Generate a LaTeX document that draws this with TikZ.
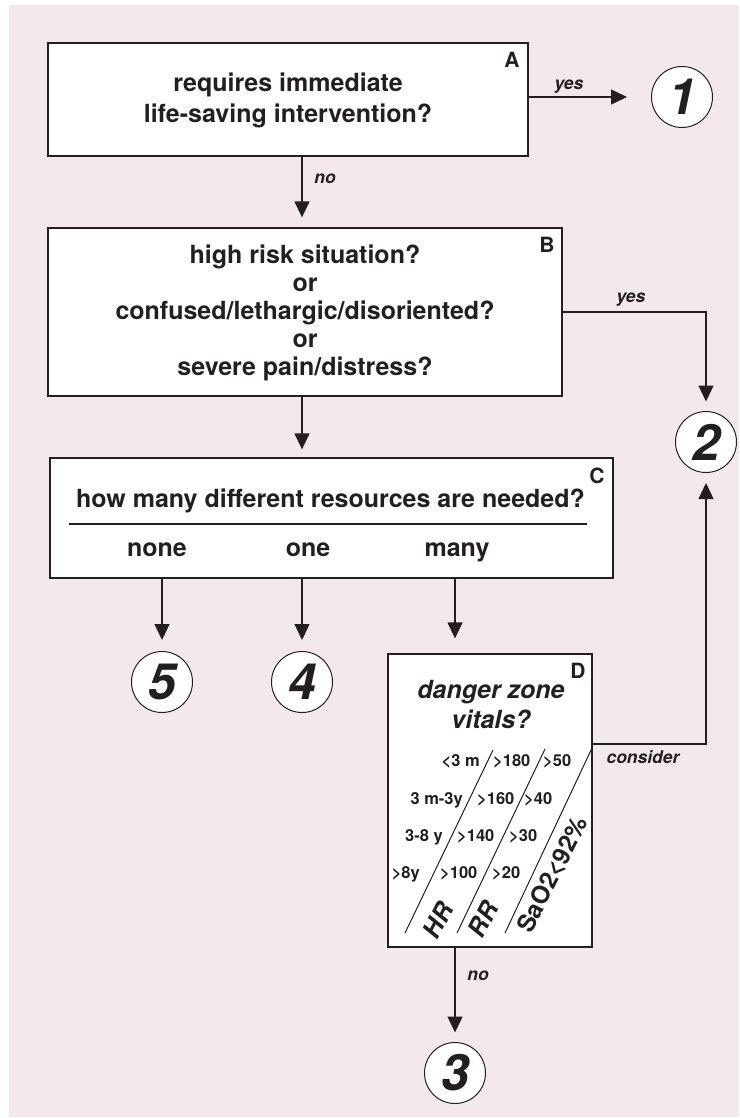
\documentclass[tikz,border=0pt]{standalone}
\usepackage{fontspec}
\setmainfont{TeX Gyre Heros}
\usetikzlibrary{arrows.meta,calc}
\definecolor{bgpink}{RGB}{243,232,235}
\definecolor{ink}{RGB}{35,31,32}
\begin{document}
\begin{tikzpicture}[x=1pt,y=-1pt,
  box/.style={draw=ink,fill=white,line width=1.3pt,inner sep=0pt},
  big/.style={text=ink,inner sep=0pt,anchor=base,font=\fontsize{25}{30}\selectfont\bfseries},
  bigit/.style={big,font=\fontsize{25}{30}\selectfont\bfseries\itshape},
  letter/.style={text=ink,inner sep=0pt,anchor=base,font=\fontsize{21}{24}\selectfont\bfseries},
  lab/.style={text=ink,inner sep=0pt,anchor=base,font=\fontsize{17.5}{20}\selectfont\bfseries\itshape},
  tab/.style={text=ink,inner sep=0pt,font=\fontsize{16.5}{19}\selectfont\bfseries},
  num/.style={circle,draw=ink,fill=white,line width=1pt,minimum size=61pt,inner sep=0pt,text=ink,font=\fontsize{50}{50}\selectfont\bfseries\itshape},
  arr/.style={draw=ink,line width=1.3pt,-{Triangle[width=15pt,length=16pt]}},
  thin/.style={draw=ink,line width=1pt}]
\useasboundingbox (0,0) rectangle (739,1118);
\fill[bgpink] (9,5) rectangle (739,1117);

% boxes
\node[box,minimum width=480pt,minimum height=113pt] (A) at (288,99.5) {};
\node[box,minimum width=514pt,minimum height=168pt] (B) at (305,312) {};
\node[box,minimum width=563pt,minimum height=120pt] (C) at (331.5,518) {};
\node[box,minimum width=204pt,minimum height=293pt] (D) at (490,800.5) {};

% circles
\node[num] (n1) at (682,97) {1};
\node[num] (n2) at (706,442) {2};
\node[num] (n5) at (162,682) {5};
\node[num] (n4) at (302,682) {4};
\node[num] (n3) at (455,1073) {3};

% box letters
\node[letter] (lA) at (512,68) {A};
\node[letter] (lB) at (547,252) {B};
\node[letter] (lC) at (597,483) {C};
\node[letter] (lD) at (578,678) {D};

% box A text
\node[big] (a1) at (288,92) {requires immediate};
\node[big] (a2) at (288,123) {life-saving intervention?};

% box B text
\node[big] (b1) at (305,263) {high risk situation?};
\node[big] (b2) at (305,291) {or};
\node[big] (b3) at (305,319) {confused/lethargic/disoriented?};
\node[big] (b4) at (305,347) {or};
\node[big] (b5) at (305,375) {severe pain/distress?};

% box C text
\node[big] (c1) at (330.5,507) {how many different resources are needed?};
\draw[ink,line width=1.2pt] (69,524) coordinate (cl1) -- (587,524) coordinate (cl2);
\node[big] (c2) at (157,556) {none};
\node[big] (c3) at (308,556) {one};
\node[big] (c4) at (457,556) {many};

% box D text
\node[bigit] (d1) at (491,698) {danger zone};
\node[bigit] (d2) at (491,728) {vitals?};

% diagonal lines in D
\draw[thin] (405,933) coordinate (g1a) -- (493,750) coordinate (g1b);
\draw[thin] (457,933) coordinate (g2a) -- (545,749) coordinate (g2b);
\draw[thin] (505,933) coordinate (g3a) -- (592,748) coordinate (g3b);

% table
\node[tab,anchor=base east] (t11) at (480,766) {<3 m};
\node[tab,anchor=base west] (t12) at (493,766) {>180};
\node[tab,anchor=base west] (t13) at (543,766) {>50};
\node[tab,anchor=base east] (t21) at (463,804) {3 m-3y};
\node[tab,anchor=base west] (t22) at (477,804) {>160};
\node[tab,anchor=base west] (t23) at (524,804) {>40};
\node[tab,anchor=base east] (t31) at (443,841) {3-8 y};
\node[tab,anchor=base west] (t32) at (457,841) {>140};
\node[tab,anchor=base west] (t33) at (509,841) {>30};
\node[tab,anchor=base east] (t41) at (420,878) {>8y};
\node[tab,anchor=base west] (t42) at (440,878) {>100};
\node[tab,anchor=base west] (t43) at (492,878) {>20};

\node[text=ink,inner sep=0pt,rotate=63,font=\fontsize{25}{28}\selectfont\bfseries\itshape] (hr) at (438,920) {HR};
\node[text=ink,inner sep=0pt,rotate=63,font=\fontsize{25}{28}\selectfont\bfseries\itshape] (rr) at (483,919) {RR};
\node[text=ink,inner sep=0pt,rotate=63,font=\fontsize{24.5}{28}\selectfont\bfseries] (sa) at (553,875) {SaO2<92\%};

% connectors
\coordinate (xa) at (302,0);
\coordinate (xm) at (455,0);
\coordinate (yc) at (0,744);
\draw[arr,shorten >=24pt] (A.east |- n1) -- (n1.west);
\draw[arr,shorten >=10pt] (A.south -| xa) -- (B.north -| xa);
\draw[arr,shorten >=8pt] (B.south -| xa) -- (C.north -| xa);
\draw[arr,shorten >=9.5pt] (B.east) -- (B.east -| n2) -- (n2.north);
\draw[arr,shorten >=11pt] (C.south -| n5) -- (n5.north);
\draw[arr,shorten >=11pt] (C.south -| n4) -- (n4.north);
\draw[arr,shorten >=15pt] (C.south -| xm) -- (D.north -| xm);
\draw[arr,shorten >=9.5pt] (D.south -| n3) -- (n3.north);
\draw[arr,shorten >=10pt] (D.east |- yc) -- (n2 |- yc) -- (n2.south);

% connector labels
\node[lab] (yes1) at (569,90) {yes};
\node[lab] (no1) at (325,183) {no};
\node[lab] (yes2) at (631,302) {yes};
\node[lab] (cons) at (643,763) {consider};
\node[lab] (no2) at (478,980) {no};
\end{tikzpicture}
\end{document}
